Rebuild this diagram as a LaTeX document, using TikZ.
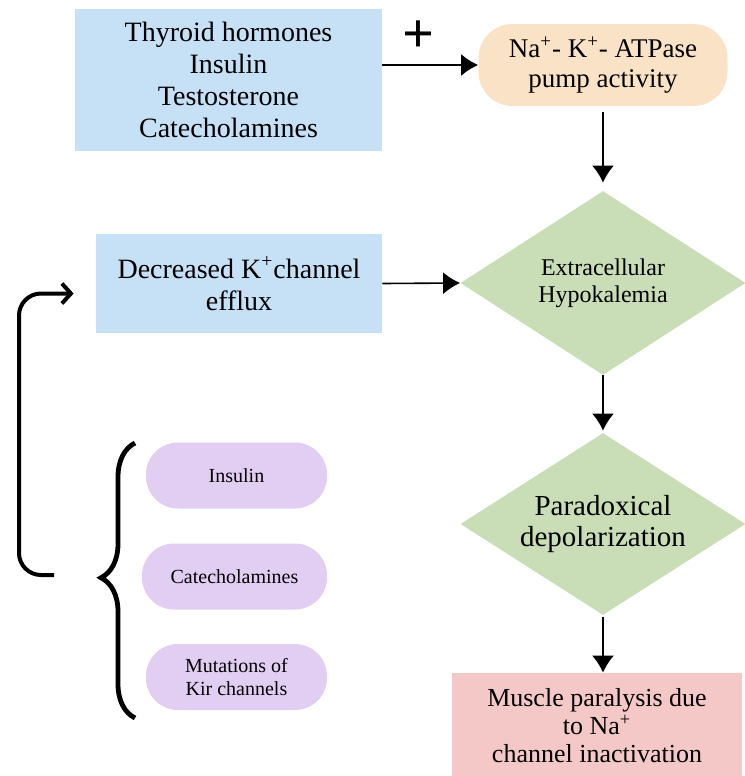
\documentclass[tikz,border=0pt]{standalone}
\usepackage{fontspec}
\setmainfont{Liberation Serif}
\usetikzlibrary{shapes,arrows,arrows.meta,positioning,decorations.pathreplacing}
\definecolor{hormblue}{RGB}{198,225,245}
\definecolor{pumppeach}{RGB}{250,226,198}
\definecolor{diagreen}{RGB}{201,221,182}
\definecolor{pilllav}{RGB}{226,206,242}
\definecolor{outpink}{RGB}{245,200,200}
\tikzstyle{block} = [rectangle, align=center, inner sep=2pt]
\tikzstyle{hormone} = [block, fill=hormblue, minimum width=153.5pt, minimum height=71pt, font=\fontsize{14}{16}\selectfont]
\tikzstyle{pump} = [block, fill=pumppeach, rounded corners=17pt, minimum width=124.5pt, minimum height=41pt, font=\fontsize{13.5}{15}\selectfont]
\tikzstyle{decision} = [diamond, fill=diagreen, align=center, inner sep=0pt, aspect=1.54, minimum width=142.5pt, minimum height=92pt]
\tikzstyle{pill} = [block, fill=pilllav, rounded corners=16pt, minimum width=90.5pt, minimum height=33pt, font=\fontsize{10}{11.5}\selectfont]
\tikzstyle{outcome} = [block, fill=outpink, minimum width=145pt, minimum height=52.5pt, font=\fontsize{13}{14}\selectfont]
\tikzstyle{line} = [draw, line width=0.8pt, ->]
\tikzstyle{feedback} = [draw, line width=2pt, rounded corners=11pt]

\begin{document}
\begin{tikzpicture}[x=0.5pt, y=-0.5pt, >={Latex[length=8.5pt,width=11pt]}]
    \useasboundingbox (0,0) rectangle (744,776);
    \node [hormone] (hormones) at (228.5,80) {Thyroid hormones\\Insulin\\Testosterone\\Catecholamines};
    \node [pump] (pump) at (603,65) {Na\textsuperscript{+}- K\textsuperscript{+}- ATPase\\pump activity};
    \node [font=\fontsize{28}{28}\selectfont\bfseries] (plus) at (418,37) {+};
    \node [decision, font=\fontsize{12}{13.5}\selectfont] (hypo) at (603,283) {Extracellular\\Hypokalemia};
    \node [hormone, minimum width=143pt, minimum height=49.5pt] (efflux) at (239,283.5) {Decreased K\textsuperscript{+}channel\\efflux};
    \node [decision, minimum height=91pt, font=\fontsize{14.5}{15.5}\selectfont] (depol) at (603,524) {Paradoxical\\depolarization};
    \node [outcome] (paralysis) at (597,725.5) {Muscle paralysis due\\to Na\textsuperscript{+}\\channel inactivation};
    \node [pill] (insulin) at (236.5,475.5) {Insulin};
    \node [pill, minimum width=92.5pt] (catechol) at (234.5,576.5) {Catecholamines};
    \node [pill] (kir) at (236.5,677) {Mutations of\\Kir channels};
    \coordinate (fbstart) at (54,575);

    \path [line] (hormones.east |- pump.west) -- (pump.west);
    \path [line, shorten <=3pt, shorten >=4pt] (pump.south) -- (hypo.north);
    \path [line] (efflux.east) -- (hypo.west);
    \path [line, shorten >=1pt] (hypo.south) -- (depol.north);
    \path [line, shorten <=1pt] (depol.south) -- (depol.south |- paralysis.north);
    % brace round the three causes
    \draw [line width=2.4pt, decorate, decoration={brace, amplitude=17pt, aspect=0.51}] (135,718) -- (135,443);
    \path [feedback, -{Straight Barb[length=4.5pt,width=10pt]}] (fbstart) -- ++(-35,0) |- ([yshift=-5pt, xshift=-11pt]efflux.west);
\end{tikzpicture}
\end{document}
